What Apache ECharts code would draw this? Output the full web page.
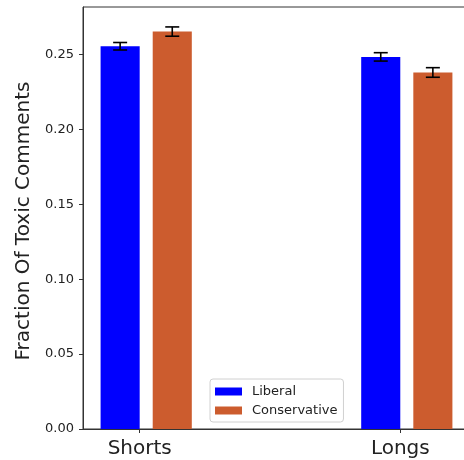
<!DOCTYPE html>
<html>
<head>
<meta charset="utf-8">
<script src="https://cdn.jsdelivr.net/npm/echarts@6/dist/echarts.min.js"></script>
<style>
html,body{margin:0;padding:0;background:#fff;}
#c{width:464px;height:460px;}
</style>
</head>
<body>
<div id="c"></div>
<script>
const categories = ['Shorts', 'Longs'];
const seriesNames = ['Liberal', 'Conservative'];
const liberal = [0.2555, 0.2484];
const conservative = [0.2653, 0.2380];
const liberalErr = [0.0025, 0.0028];
const conservativeErr = [0.0031, 0.0032];
const yTicks = [0.00, 0.05, 0.10, 0.15, 0.20, 0.25];

const FONT = 'DejaVu Sans';
const gridLeft = 83, gridTop = 7, gridWidth = 387, gridBottom = 31;
const xMin = -0.2175, xMax = 1.2675;
const barUnits = 0.15;
const pxPerUnit = gridWidth / (xMax - xMin);
const barPx = barUnits * pxPerUnit;
const libOffset = -0.075, conOffset = 0.125;

function barData(vals, off) { return vals.map((v, i) => [i + off, v]); }
function errData(vals, errs, off) { return vals.map((v, i) => [i + off, v, errs[i]]); }

function errRender(params, api) {
  const x = api.value(0), y = api.value(1), e = api.value(2);
  const top = api.coord([x, y + e]);
  const bot = api.coord([x, y - e]);
  const cap = 7;
  const st = { stroke: '#000', lineWidth: 1.6 };
  return {
    type: 'group',
    children: [
      { type: 'line', shape: { x1: top[0], y1: top[1], x2: bot[0], y2: bot[1] }, style: st },
      { type: 'line', shape: { x1: top[0] - cap, y1: top[1], x2: top[0] + cap, y2: top[1] }, style: st },
      { type: 'line', shape: { x1: bot[0] - cap, y1: bot[1], x2: bot[0] + cap, y2: bot[1] }, style: st }
    ]
  };
}

const chart = echarts.init(document.getElementById('c'), null, { renderer: 'canvas' });
chart.setOption({
  animation: false,
  backgroundColor: '#fff',
  textStyle: { fontFamily: FONT },
  grid: {
    left: gridLeft, top: gridTop, width: gridWidth, bottom: gridBottom,
    outerBoundsMode: 'none', containLabel: false,
    show: true, borderColor: '#333', borderWidth: 1, backgroundColor: 'transparent'
  },
  legend: {
    data: seriesNames,
    orient: 'vertical',
    left: 210, top: 379,
    padding: [6, 6, 5, 5],
    itemWidth: 27, itemHeight: 8, itemGap: 6,
    icon: 'rect',
    backgroundColor: 'rgba(255,255,255,0.8)',
    borderColor: '#d0d0d0', borderWidth: 1, borderRadius: 3,
    textStyle: { fontFamily: FONT, fontSize: 13, color: '#222', padding: [0, 0, 0, 5] }
  },
  xAxis: {
    type: 'value',
    min: xMin, max: xMax,
    splitLine: { show: false },
    axisLine: { show: true, lineStyle: { color: '#333', width: 1 } },
    axisTick: { show: true, length: 4, lineStyle: { color: '#333' }, customValues: categories.map((c, i) => i) },
    axisLabel: {
      customValues: categories.map((c, i) => i),
      formatter: v => categories[Math.round(v)] || '',
      fontFamily: FONT, fontSize: 20, color: '#222', margin: 10
    }
  },
  yAxis: {
    type: 'value',
    min: 0, max: 0.2817, interval: 0.05,
    name: 'Fraction Of Toxic Comments',
    nameLocation: 'middle', nameGap: 48,
    nameTextStyle: { fontFamily: FONT, fontSize: 20, color: '#222', padding: [0, 6, 0, 0] },
    splitLine: { show: false },
    axisLine: { show: true, onZero: false, lineStyle: { color: '#333', width: 1 } },
    axisTick: { show: true, length: 4, lineStyle: { color: '#333' }, customValues: yTicks },
    axisLabel: {
      customValues: yTicks,
      formatter: v => v.toFixed(2),
      fontFamily: FONT, fontSize: 13, color: '#222', margin: 9
    }
  },
  series: [
    {
      name: 'Liberal', type: 'bar',
      data: barData(liberal, libOffset),
      barWidth: barPx, barGap: '-100%',
      itemStyle: { color: '#0000ff' }
    },
    {
      name: 'Conservative', type: 'bar',
      data: barData(conservative, conOffset),
      barWidth: barPx, barGap: '-100%',
      itemStyle: { color: '#cc5c2e' }
    },
    {
      type: 'custom', renderItem: errRender, z: 10,
      data: errData(liberal, liberalErr, libOffset)
    },
    {
      type: 'custom', renderItem: errRender, z: 10,
      data: errData(conservative, conservativeErr, conOffset)
    }
  ]
});
</script>
</body>
</html>
